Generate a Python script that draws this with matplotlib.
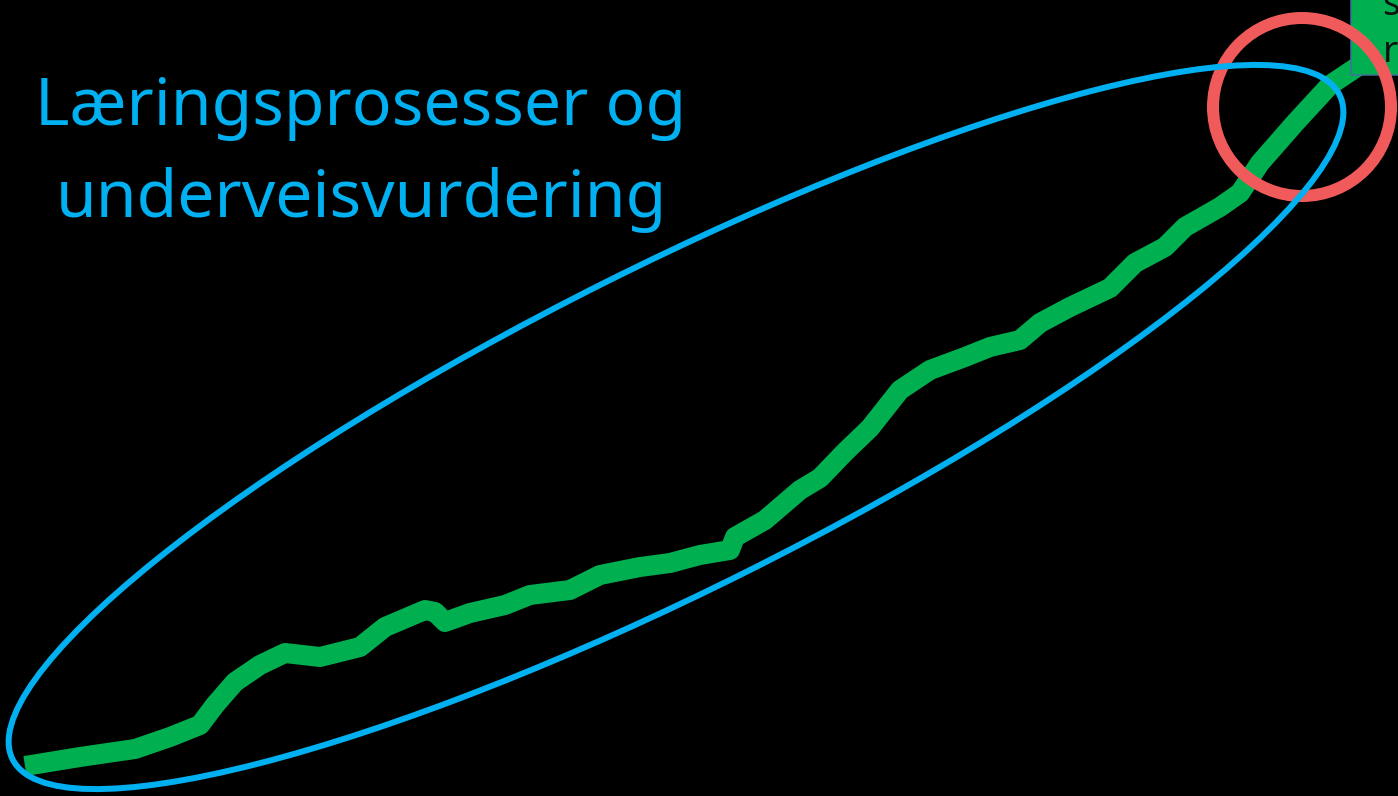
import matplotlib
matplotlib.use('Agg')
import matplotlib.pyplot as plt
from matplotlib.patches import Ellipse, Circle, Rectangle

# --- Data (pixel coords of the hand-drawn learning curve) ---
curve_x = [25, 80, 135, 170, 200, 215, 235, 260, 285, 320, 360, 385, 425, 435,
           445, 470, 505, 530, 570, 600, 640, 670, 700, 730, 735, 765, 800, 820,
           845, 870, 900, 930, 965, 990, 1020, 1040, 1070, 1110, 1135, 1165,
           1185, 1220, 1240, 1260, 1295, 1330, 1360, 1380]
curve_y = [766, 757, 749, 737, 725, 705, 682, 665, 653, 657, 647, 627, 610, 612,
           622, 613, 605, 595, 590, 575, 567, 563, 555, 550, 537, 520, 490, 478,
           452, 428, 390, 370, 357, 347, 340, 323, 307, 288, 263, 247, 227, 207,
           193, 163, 123, 85, 65, 52]

title_lines = ['Læringsprosesser og', 'underveisvurdering']
corner_letters = ['s', 'r']

GREEN = '#00B050'
BLUE = '#00B0F0'
RED = '#F05A5A'

W, H = 1398, 796
fig = plt.figure(figsize=(W / 100, H / 100), dpi=100, facecolor='black')
ax = fig.add_axes([0, 0, 1, 1])
ax.set_facecolor('black')
ax.set_xlim(0, W)
ax.set_ylim(H, 0)
ax.axis('off')

px = 72 / 100  # points per pixel

# green curve
ax.plot(curve_x, curve_y, color=GREEN, lw=20 * px,
        solid_joinstyle='round', solid_capstyle='butt', zorder=2)

# green box in the corner (cut off by the edge)
ax.add_patch(Rectangle((1351, -10), 80, 85, facecolor=GREEN,
                       edgecolor='#41719C', lw=1.5 * px, zorder=3))
ax.text(1382, 15, corner_letters[0], color='#111111', fontsize=37 * px,
        family='Noto Sans', va='baseline', clip_on=True, zorder=4)
ax.text(1383, 62, corner_letters[1], color='#111111', fontsize=37 * px,
        family='Noto Sans', va='baseline', clip_on=True, zorder=4)

# red circle
ax.add_patch(Circle((1302, 107), 89, fill=False, edgecolor=RED,
                    lw=12 * px, zorder=5))

# blue ellipse around the curve
ax.add_patch(Ellipse((676, 427), 1484, 322, angle=-26.6, fill=False,
                     edgecolor=BLUE, lw=6 * px, zorder=6))

# title text
ax.text(361, 125, title_lines[0], color=BLUE, fontsize=66 * px,
        family='Noto Sans', ha='center', va='baseline', zorder=7)
ax.text(361, 217, title_lines[1], color=BLUE, fontsize=66 * px,
        family='Noto Sans', ha='center', va='baseline', zorder=7)

fig.savefig('out.png', dpi=100, facecolor='black')
